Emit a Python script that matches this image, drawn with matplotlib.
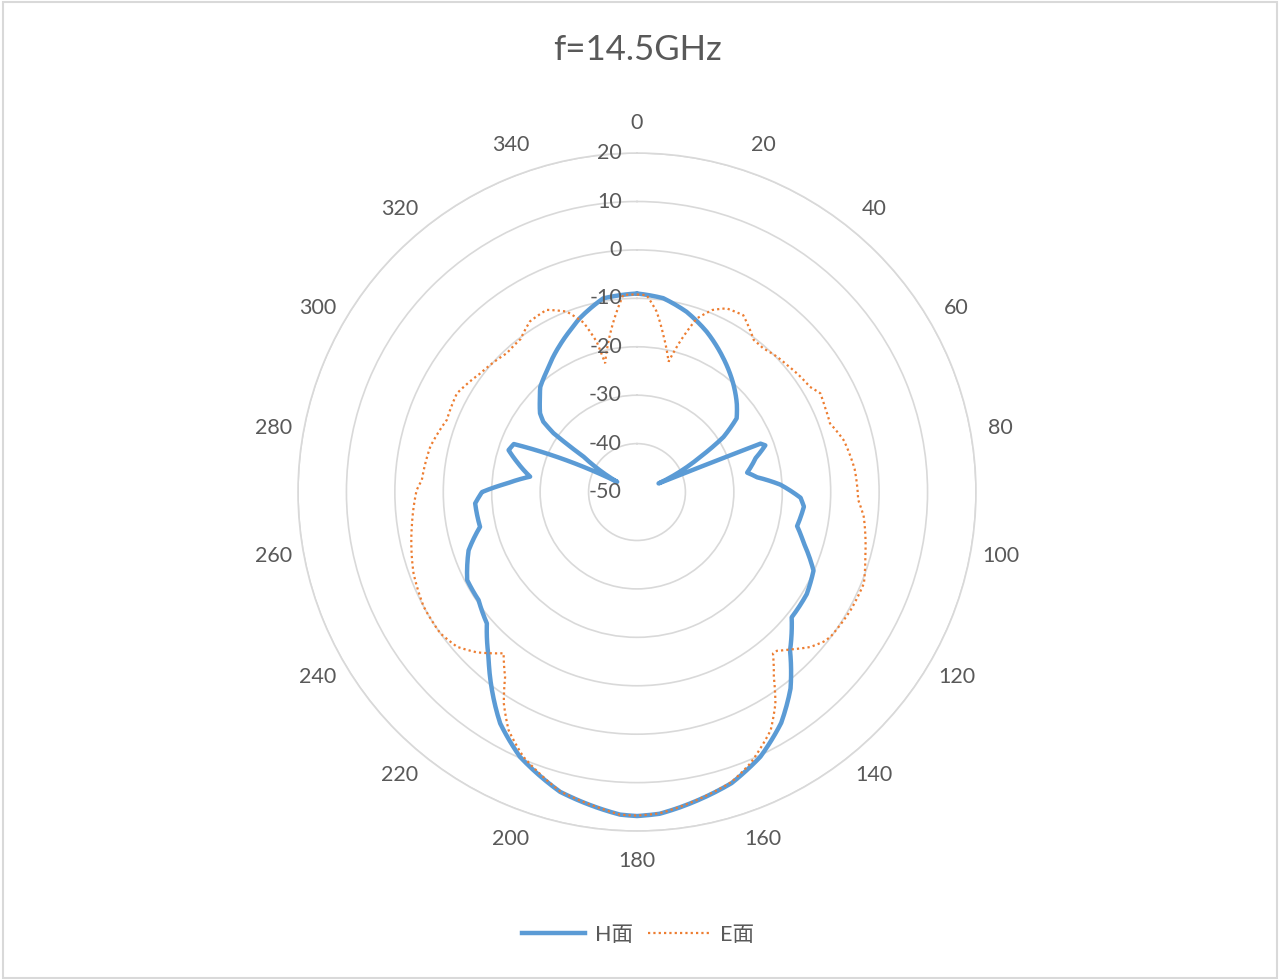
import numpy as np
import matplotlib
matplotlib.use("Agg")
import matplotlib.pyplot as plt
from matplotlib.lines import Line2D
from matplotlib.patches import Rectangle, PathPatch
from matplotlib.path import Path
from matplotlib.transforms import ScaledTranslation

plt.rcParams['font.family'] = ['Lato', 'Noto Sans CJK SC', 'DejaVu Sans']

title = "f=14.5GHz"
series_names = ["H面", "E面"]

h_angles = [0, 7.7, 15.4, 23.5, 32.8, 42, 48.3, 53.5, 57.5, 60.9, 68.2, 68.6, 70, 74, 80,
            83, 87, 92, 95, 102, 107, 114, 121, 129, 136, 142, 148, 155, 162, 172.2, 176,
            180, 183, 186.7, 194.4, 203.8, 210.6, 216.2, 222, 228.8, 235.7, 242.6, 250.9,
            257.5, 266, 270, 273.8, 278.2, 284, 288.1, 291.3, 297.2, 303.5, 305.2, 306.9,
            309.1, 312.9, 317.4, 323.1, 332.4, 337.2, 341.8, 350.1, 360]
h_values = [-9.0, -9.6, -11.4, -13.9, -17.1, -20.2, -22.4, -24.4, -28.8, -35.0, -45.2, -22.6,
            -21.8, -24.5, -26.9, -25.0, -20.4, -16.2, -15.4, -16.2, -14.0, -10.1, -9.1, -8.9,
            -4.5, 1.5, 6.2, 10.3, 13.2, 15.7, 16.6, 16.9, 16.7, 15.8, 13.9, 9.8, 5.5, 0.7,
            -4.2, -8.8, -10.4, -10.5, -13.2, -16.8, -16.5, -18.0, -23.1, -27.7, -24.5,
            -22.1, -22.7, -45.4, -36.8, -28.9, -25.8, -24.2, -22.6, -20.5, -18.9, -15.7,
            -14.0, -12.2, -9.4, -9.0]

e_angles = [0, 2.8, 6.2, 9.5, 13.6, 16, 19, 22.5, 26, 31, 37.5, 41.3, 45.9, 49.7, 54.7,
            58.7, 61.7, 65.6, 70.4, 75.9, 77.8, 84, 92, 96.2, 105.8, 111.9, 119, 126.8,
            128.7, 131.8, 135.7, 138.6, 139.9, 143.5, 146.8, 150.7, 157.3, 162, 172.2, 176,
            180, 183, 186.7, 194.4, 203.2, 208.3, 212.2, 215.5, 219.6, 225, 229.3, 234.3,
            241.7, 250, 262.1, 270.5, 273.2, 282.4, 290.8, 298.7, 307.1, 316.9, 322.7,
            327.9, 333.6, 338.7, 342.5, 345, 346.1, 350.2, 353.6, 356, 360]
e_values = [-9.2, -9.3, -12.5, -17.1, -22.3, -17.6, -12.1, -9.3, -7.8, -7.4, -10.4, -10.5,
            -9.8, -9.4, -8.7, -8.2, -7.0, -7.4, -7.7, -6.0, -5.7, -4.8, -4.3, -2.9, -1.0,
            0.5, 0.4, -0.1, -0.6, -2.0, -4.6, -6.3, -6.4, -2.5, 2.2, 6.4, 10.7, 13.0, 15.6,
            16.5, 16.8, 16.7, 15.7, 13.8, 9.5, 5.9, 1.6, -3.1, -6.8, -3.2, -1.0, 0.0, 0.0,
            -0.9, -3.1, -4.5, -5.5, -6.3, -8.0, -7.6, -9.4, -10.7, -10.3, -8.4, -8.0,
            -10.0, -13.3, -17.9, -22.6, -17.1, -12.5, -9.2, -9.2]

r_ticks = [-50, -40, -30, -20, -10, 0, 10, 20]
theta_ticks = list(range(0, 360, 20))

text_color = "#595959"
grid_color = "#D9D9D9"
h_color = "#5B9BD5"
e_color = "#ED7D31"
e_dash = (0, (1, 1.4))

fig = plt.figure(figsize=(12.8, 9.8), dpi=100)
fig.patch.set_facecolor("white")
fig.patches.append(Rectangle((0.002, 0.002), 0.996, 0.996, transform=fig.transFigure,
                             fill=False, edgecolor=grid_color, lw=1.5))

ax = fig.add_axes([0.2328, 0.1520, 0.5297, 0.6918], projection='polar')
ax.set_theta_zero_location('N')
ax.set_theta_direction(-1)
ax.set_facecolor("white")

# series drawn in polar coordinates (segments follow the polar scale)
h_path = Path(np.column_stack([np.deg2rad(h_angles), h_values]), _interpolation_steps=12)
e_path = Path(np.column_stack([np.deg2rad(e_angles), e_values]), _interpolation_steps=12)
ax.add_patch(PathPatch(h_path, fill=False, edgecolor=h_color, lw=3.2, joinstyle='round',
                       capstyle='round', zorder=3))
ax.add_patch(PathPatch(e_path, fill=False, edgecolor=e_color, lw=1.6, linestyle=e_dash,
                       zorder=4))

ax.set_ylim(r_ticks[0], r_ticks[-1])
ax.set_xticks([])
ax.set_yticks(r_ticks)
ax.set_yticklabels([])
ax.yaxis.grid(True, color=grid_color, lw=1.2)
ax.spines['polar'].set_color(grid_color)
ax.spines['polar'].set_linewidth(1.2)

# angular labels
for t in theta_ticks:
    ax.text(np.deg2rad(t), 26.2, str(t), ha='center', va='center', fontsize=15.5,
            color=text_color, clip_on=False)

# radial labels
off = ScaledTranslation(-0.15, 0, fig.dpi_scale_trans)
for r in r_ticks:
    ax.text(0, r, str(r), ha='right', va='center', fontsize=15.5, color=text_color,
            transform=ax.transData + off, clip_on=False, zorder=5)

fig.text(0.4977, 1 - 50 / 980, title, ha='center', va='center', fontsize=25,
         color=text_color)

handles = [Line2D([], [], color=h_color, lw=3.2),
           Line2D([], [], color=e_color, lw=1.6, linestyle=e_dash)]
leg = fig.legend(handles, series_names, loc='center', bbox_to_anchor=(0.4985, 1 - 935 / 980),
                 ncol=2, frameon=False, fontsize=15.5, handlelength=2.9,
                 handletextpad=0.45, columnspacing=0.7)
for txt in leg.get_texts():
    txt.set_color(text_color)

fig.savefig("out.png", dpi=100, facecolor="white")
